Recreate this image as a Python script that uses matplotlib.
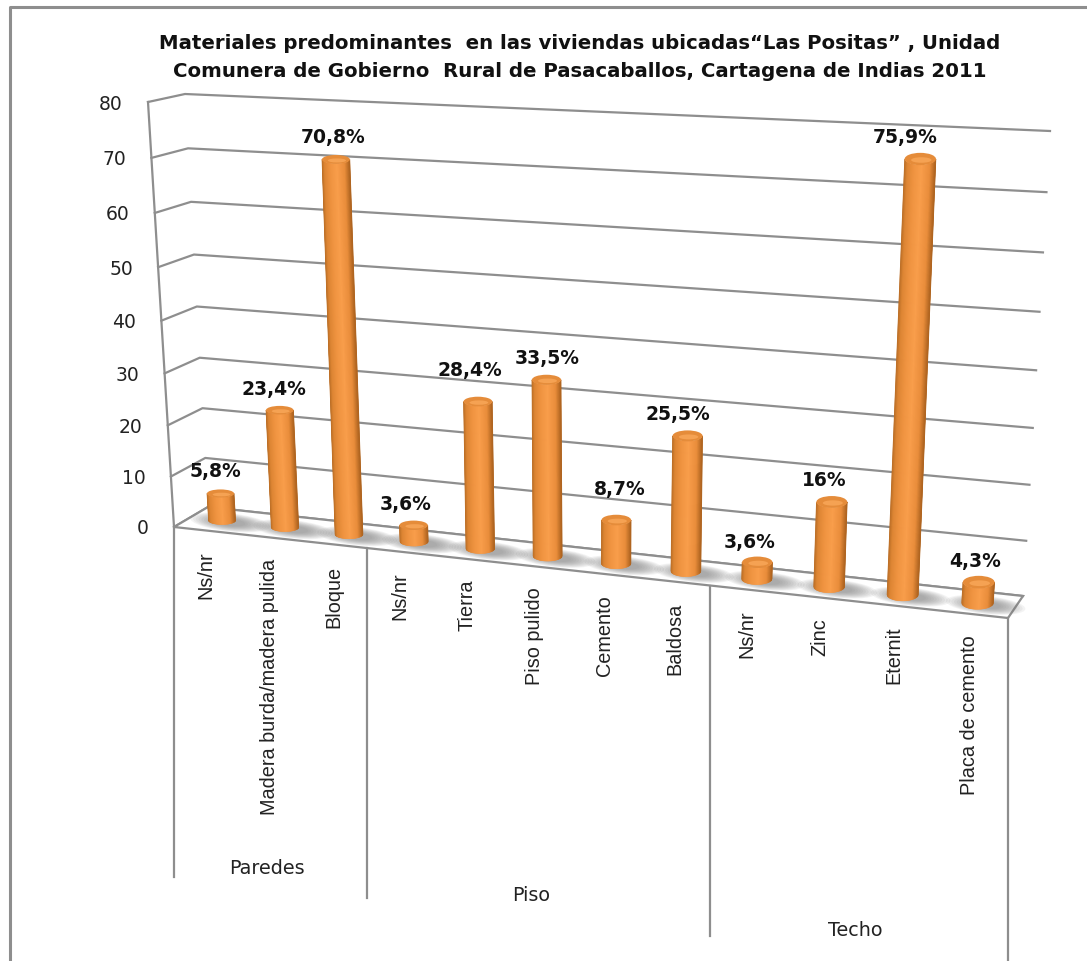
import matplotlib
matplotlib.use('Agg')
import matplotlib.pyplot as plt
from matplotlib.patches import Ellipse, Polygon
from matplotlib.colors import LinearSegmentedColormap
import numpy as np

# values of the chart
categories = ['Ns/nr', 'Madera burda/madera pulida', 'Bloque',
              'Ns/nr', 'Tierra', 'Piso pulido', 'Cemento', 'Baldosa',
              'Ns/nr', 'Zinc', 'Eternit', 'Placa de cemento']
values = [5.8, 23.4, 70.8, 3.6, 28.4, 33.5, 8.7, 25.5, 3.6, 16, 75.9, 4.3]
value_labels = ['5,8%', '23,4%', '70,8%', '3,6%', '28,4%', '33,5%', '8,7%', '25,5%',
                '3,6%', '16%', '75,9%', '4,3%']
groups = ['Paredes', 'Piso', 'Techo']
group_sizes = [3, 5, 4]
y_ticks = [0, 10, 20, 30, 40, 50, 60, 70, 80]
title = ('Materiales predominantes  en las viviendas ubicadas“Las Positas” , Unidad\n'
         'Comunera de Gobierno  Rural de Pasacaballos, Cartagena de Indias 2011')

GRID = '#8e8e8e'
N = len(categories)

# hand placement of the data labels and group names, as the spreadsheet did it
label_nudge = [(-5, -22), (-6, -21), (-3, -22), (-8, -21), (-8, -31), (1, -21), (3, -31), (-10, -21),
               (-8, -20), (-8, -21), (-15, -22), (-4, -21)]
group_nudge = [(-3, -9), (-7, -3), (-4, -5)]

# corners of the 3d box on the page: (across, depth, height)
corners = {
    (0, 0, 0): (174, 527), (1, 0, 0): (1008, 618),
    (0, 1, 0): (208, 507), (1, 1, 0): (1023, 596),
    (0, 0, 1): (148, 102), (1, 0, 1): (1032, 141),
    (0, 1, 1): (185, 94), (1, 1, 1): (1050, 131),
}


def x_scale(pos):
    # category position to 0..1 across the box, with a little perspective
    t = pos / N
    return t / (1 + 0.11 * (1 - t))


def y_scale(val):
    t = val / 80
    return t / (1 + 0.06 * (1 - t))


def project(pos, depth, val):
    u, w = x_scale(pos), y_scale(val)
    px, py = 0.0, 0.0
    for (a, b, c), (cx, cy) in corners.items():
        k = (u if a else 1 - u) * (depth if b else 1 - depth) * (w if c else 1 - w)
        px += k * cx
        py += k * cy
    return px, py


fig = plt.figure(figsize=(10.87, 9.61), dpi=100)
ax = fig.add_axes([0, 0, 1, 1])
ax.set_xlim(0, 1087)
ax.set_ylim(961, 0)
ax.axis('off')

# outer frame
ax.plot([10, 10, 1087], [961, 7, 7], color=GRID, lw=2.2)

ax.text(580, 57.5, title, ha='center', va='center', fontsize=14.2, fontweight='bold',
        family='DejaVu Sans', linespacing=1.65, color='#111111')

# walls and grid
for v in y_ticks:
    p0 = project(0, 0, v)
    p1 = project(0, 1, v)
    p2 = project(N, 1, v)
    ax.plot([p0[0], p1[0], p2[0]], [p0[1], p1[1], p2[1]], color=GRID, lw=1.6, zorder=1)
    ax.text(p0[0] - 25, p0[1] + 2, str(v), ha='right', va='center', fontsize=13.5,
            color='#222222', family='DejaVu Sans')
left = [project(0, 0, v) for v in (0, 80)]
ax.plot([left[0][0], left[1][0]], [left[0][1], left[1][1]], color=GRID, lw=1.6, zorder=1)

# floor
floor = [project(0, 0, 0), project(N, 0, 0), project(N, 1, 0), project(0, 1, 0)]
ax.add_patch(Polygon(floor, closed=True, fc='white', ec=GRID, lw=1.6, zorder=2))

# group dividers below the floor
group_edges = np.concatenate([[0], np.cumsum(group_sizes)])
bottoms = []
for e in group_edges:
    fx, fy = project(e, 0, 0)
    bottom = min(fy + 350, 961)
    bottoms.append((fx, bottom))
    ax.plot([fx, fx], [fy, bottom], color=GRID, lw=1.6, zorder=2)
for i, g in enumerate(groups):
    cx = (bottoms[i][0] + bottoms[i + 1][0]) / 2
    cy = bottoms[i][1]
    ax.text(cx + group_nudge[i][0], cy + group_nudge[i][1], g, ha='center', va='center',
            fontsize=13.8, color='#222222', family='DejaVu Sans')

# category labels
for i, c in enumerate(categories):
    fx, fy = project(i + 0.5, 0, 0)
    ax.text(fx, fy + 21, c, rotation=90, ha='center', va='top', fontsize=14.3,
            color='#222222', family='Liberation Sans')

# shadows on the floor
for i in range(N):
    bx, by = project(i + 0.5, 0.5, 0)
    for k in range(10):
        ax.add_patch(Ellipse((bx + 8, by + 2), 80 - 5.5 * k, 18 - 1.2 * k, angle=6,
                             fc='#7a7a7a', ec='none', alpha=0.09, zorder=3))

# cylinders, drawn as thin vertical strips for the shading
cyl = LinearSegmentedColormap.from_list('cyl', [(0, '#b86c25'), (0.1, '#dd8533'), (0.3, '#ef9340'),
                                                (0.55, '#f99e4b'), (0.82, '#e98d3b'), (1, '#ad631f')])
strips = np.linspace(-1, 1, 61)
for i, v in enumerate(values):
    u = x_scale(i + 0.5)
    half_w = 13.5 + 2.5 * u
    ry = 4 + 2.5 * u
    bx, by = project(i + 0.5, 0.5, 0)
    tx, ty = project(i + 0.5, 0.5, v)
    ty += ry * 0.5
    for s0, s1 in zip(strips[:-1], strips[1:]):
        e0, e1 = ry * np.sqrt(1 - s0 ** 2), ry * np.sqrt(1 - s1 ** 2)
        quad = [(tx + s0 * half_w, ty + e0), (tx + s1 * half_w, ty + e1),
                (bx + s1 * half_w, by + e1), (bx + s0 * half_w, by + e0)]
        col = cyl((s0 + s1 + 2) / 4)
        ax.add_patch(Polygon(quad, closed=True, fc=col, ec=col, lw=0.4, zorder=4 + i * 0.01))
    # top cap
    ax.add_patch(Ellipse((tx, ty), 2 * half_w, 2 * ry, fc='#e58c3a', ec='none', zorder=5))
    ax.add_patch(Ellipse((tx + 1, ty + 1), 1.3 * half_w, 0.9 * ry, fc='#f5a253', ec='none', zorder=5))
    ax.text(tx + label_nudge[i][0], ty + label_nudge[i][1], value_labels[i], ha='center', va='center',
            fontsize=13.5, fontweight='bold', color='#111111', family='DejaVu Sans', zorder=6)

fig.savefig('out.png', dpi=100)
